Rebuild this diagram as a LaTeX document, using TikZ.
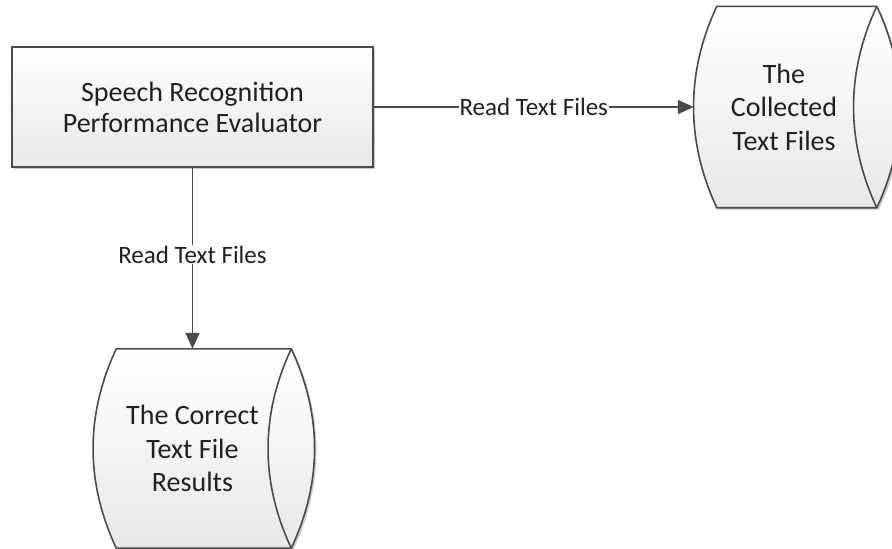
\documentclass[tikz,border=0pt]{standalone}
\usepackage{fontspec}
\setmainfont{Carlito}
\usetikzlibrary{calc, positioning, arrows.meta, shadows, backgrounds}

\definecolor{edgegray}{HTML}{4A4A4A}
\definecolor{textgray}{HTML}{202020}

\tikzset{
    shapefill/.style={draw=edgegray, line width=1.6pt, top color=white, bottom color=black!9},
    softshadow/.style={drop shadow={shadow xshift=2pt, shadow yshift=-2pt, opacity=0.2, fill=black}},
    process/.style={shapefill, softshadow, minimum width=361pt, minimum height=120pt, inner sep=0, align=center, text=textgray, font=\fontsize{28}{31}\selectfont},
    drum/.style={inner sep=0, align=center, text=textgray, font=\fontsize{28}{33.5}\selectfont},
    flowlabel/.style={fill=white, inner sep=1pt, text=textgray, font=\fontsize{25}{30}\selectfont},
    flow/.style={->, draw=edgegray, line width=1.6pt},
}

% drum outline behind a drum node: #1 node, #2 width between the top corners
\newcommand{\drumoutline}[2]{%
    \begin{pgfonlayer}{background}
        \draw[shapefill, softshadow] ($(#1.north west)+(23,0)$) coordinate (#1-tl) -- ++(#2,0) coordinate (#1-tr)
            .. controls +(31,66) and +(31,-66) .. ($(#1.south west)+(23+#2,0)$) coordinate (#1-br)
            -- ($(#1.south west)+(23,0)$)
            .. controls +(-31,-66) and +(-31,66) .. (#1-tl) -- cycle;
        \draw[edgegray, line width=1.6pt] (#1-tr) .. controls +(-31,66) and +(-31,-66) .. (#1-br);
    \end{pgfonlayer}
}

\begin{document}
\begin{tikzpicture}[x=1pt, y=-1pt, >={Triangle[length=16pt, width=14pt]}]
    \useasboundingbox (0,0) rectangle (892,549);

    \node[process] (evaluator) at (192.5,107) {Speech Recognition\\Performance Evaluator};

    \node[drum, minimum width=180pt, minimum height=201pt, right = 320pt of evaluator] (collected) {The\\Collected\\Text Files};
    \drumoutline{collected}{160}

    \node[drum, minimum width=198pt, minimum height=199pt, below = 181pt of evaluator] (correct) {The Correct\\Text File\\Results};
    \drumoutline{correct}{175}

    \draw[flow] (evaluator.east) -- node[flowlabel] {Read Text Files} (collected.west);
    \draw[flow] (evaluator.south) -- node[flowlabel, pos=0.48] {Read Text Files} (correct.north);

\end{tikzpicture}
\end{document}
